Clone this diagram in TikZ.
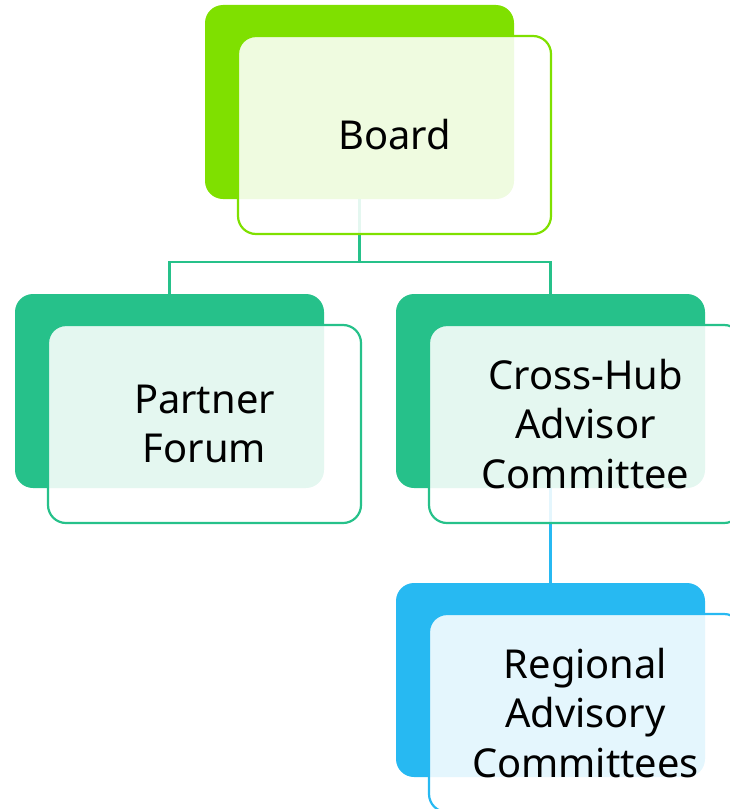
\documentclass[tikz,border=0pt]{standalone}
\usepackage{fontspec}
\setmainfont{Noto Sans}
\definecolor{cgreen}{HTML}{7FE000}
\definecolor{cteal}{HTML}{26C18A}
\definecolor{cblue}{HTML}{27B9F2}
\tikzset{
  backbox/.style={rectangle, rounded corners=18bp, fill=#1, draw=none,
    minimum width=309bp, minimum height=194bp, inner sep=0pt, outer sep=0pt, anchor=north west},
  frontbox/.style={rectangle, rounded corners=18bp, draw=#1, line width=2.2bp,
    fill=white, fill opacity=0.88, text opacity=1, draw opacity=1,
    minimum width=313bp, minimum height=198bp, inner sep=0pt, outer sep=0pt,
    anchor=north west, align=center, font=\fontsize{40}{50}\selectfont},
  conn/.style={line width=2.4bp, draw=#1},
}
\begin{document}
\begin{tikzpicture}[x=1bp,y=-1bp]
\useasboundingbox (0,0) rectangle (730,809);
% back boxes
\node[backbox=cgreen] (bb) at (205,5) {};
\node[backbox=cteal] (pb) at (15,294) {};
\node[backbox=cteal] (cb) at (396,294) {};
\node[backbox=cblue] (rb) at (396,583) {};
% connectors
\draw[conn=cteal] (bb.south) -- ++(0,63) coordinate (j) -| (pb.north);
\draw[conn=cteal] (j) -| (cb.north);
\draw[conn=cblue] (cb.south) -- (rb.north);
% front boxes
\node[frontbox=cgreen] (bf) at (238,36) {Board};
\node[frontbox=cteal] (pf) at (48,325) {Partner\\Forum};
\node[frontbox=cteal] (cf) at (429,325) {Cross-Hub\\Advisor\\Committee};
\node[frontbox=cblue] (rf) at (429,614) {Regional\\Advisory\\Committees};
\end{tikzpicture}
\end{document}
